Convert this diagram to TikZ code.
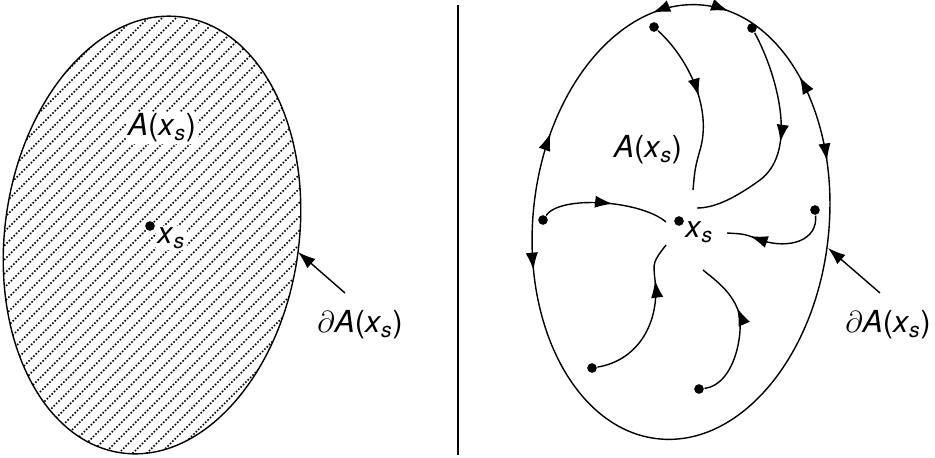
\documentclass[tikz,border=0pt]{standalone}
\usepackage{fontspec}
\setmainfont{TeX Gyre Heros}
\usetikzlibrary{arrows.meta, decorations.markings}

\begin{document}
\begin{tikzpicture}[
            x = 0.02cm, y = -0.02cm,
            > = {Latex[length=10pt,width=7pt]},
            thick
        ]

        \tikzstyle{flow}=[
            postaction = {decorate},
            decoration = {markings, mark=at position #1 with {\arrow{>}}}
        ]
        \tikzstyle{lbl}=[font=\LARGE, inner sep=1pt]
        \tikzstyle{pt}=[circle, fill, inner sep=0pt, minimum size=5.5pt]

        \useasboundingbox (0,0) rectangle (935,457);

        % left: hatched region
        \begin{scope}
            \clip (152,235) [rotate around={-8:(152,235)}] ellipse (147 and 220);
            \foreach \i in {-500,-486,...,820}
                \draw[densely dotted, line width=0.9pt] (\i,470) -- (\i+470,0);
        \end{scope}
        \draw (152,235) [rotate around={-8:(152,235)}] ellipse (147 and 220);
        \node[lbl, fill=white] (aL) at (162,128) {\textit{A}(\textit{x}\textsubscript{\textit{s}})};
        \node[pt] (xsL) at (150,226) {};
        \node[lbl, fill=white, anchor=west] (xsLl) at (155,238) {\textit{x}\textsubscript{\textit{s}}};
        \coordinate (bL) at (298,252);
        \node[lbl] (dL) at (360,325) {$\partial$\textit{A}(\textit{x}\textsubscript{\textit{s}})};
        \draw[->] (345,293) -- (bL);

        % divider
        \draw (458,5) -- (458,455);

        % right: basin with orbits on its boundary
        \draw[postaction={decorate}, decoration={markings,
                mark=at position 0.445 with {\arrowreversed{>}},
                mark=at position 0.565 with {\arrow{>}},
                mark=at position 0.705 with {\arrowreversed{>}},
                mark=at position 0.772 with {\arrow{>}},
                mark=at position 0.857 with {\arrowreversed{>}},
                mark=at position 0.934 with {\arrow{>}}}]
            (681,222) [rotate around={-6:(681,222)}] ellipse (148 and 218);

        \node[pt] (xsR) at (679,221) {};
        \node[lbl, anchor=west] (xsRl) at (683,232) {\textit{x}\textsubscript{\textit{s}}};
        \node[lbl] (aR) at (648,150) {\textit{A}(\textit{x}\textsubscript{\textit{s}})};

        \node[pt] (p1) at (654,27) {};
        \node[pt] (p2) at (752,28) {};
        \node[pt] (p3) at (543,220) {};
        \node[pt] (p4) at (815,210) {};
        \node[pt] (p5) at (592,368) {};
        \node[pt] (p6) at (699,389) {};
        \coordinate (e1) at (693,190);
        \coordinate (e2) at (697,208);
        \coordinate (e3) at (666,222);
        \coordinate (e4) at (727,233);
        \coordinate (e5) at (666,245);
        \coordinate (e6) at (703,270);

        \draw[flow=0.45] (p1) .. controls (690,60) and (712,110) .. (700,150) .. controls (695,168) .. (e1);
        \draw[flow=0.5] (p2) .. controls (775,70) and (800,150) .. (760,180) .. controls (735,198) and (715,208) .. (e2);
        \draw[flow=0.55] (p3) .. controls (560,195) and (640,200) .. (e3);
        \draw[flow=0.78] (p4) .. controls (818,240) and (790,250) .. (760,240) .. controls (745,234) .. (e4);
        \draw[flow=0.75] (p5) .. controls (640,360) and (660,320) .. (655,280) .. controls (653,262) .. (e5);
        \draw[flow=0.65] (p6) .. controls (735,385) and (745,330) .. (738,310) .. controls (730,290) and (715,280) .. (e6);

        \coordinate (bR) at (828,248);
        \node[lbl] (dR) at (888,325) {$\partial$\textit{A}(\textit{x}\textsubscript{\textit{s}})};
        \draw[->] (880,293) -- (bR);
    \end{tikzpicture}
\end{document}
